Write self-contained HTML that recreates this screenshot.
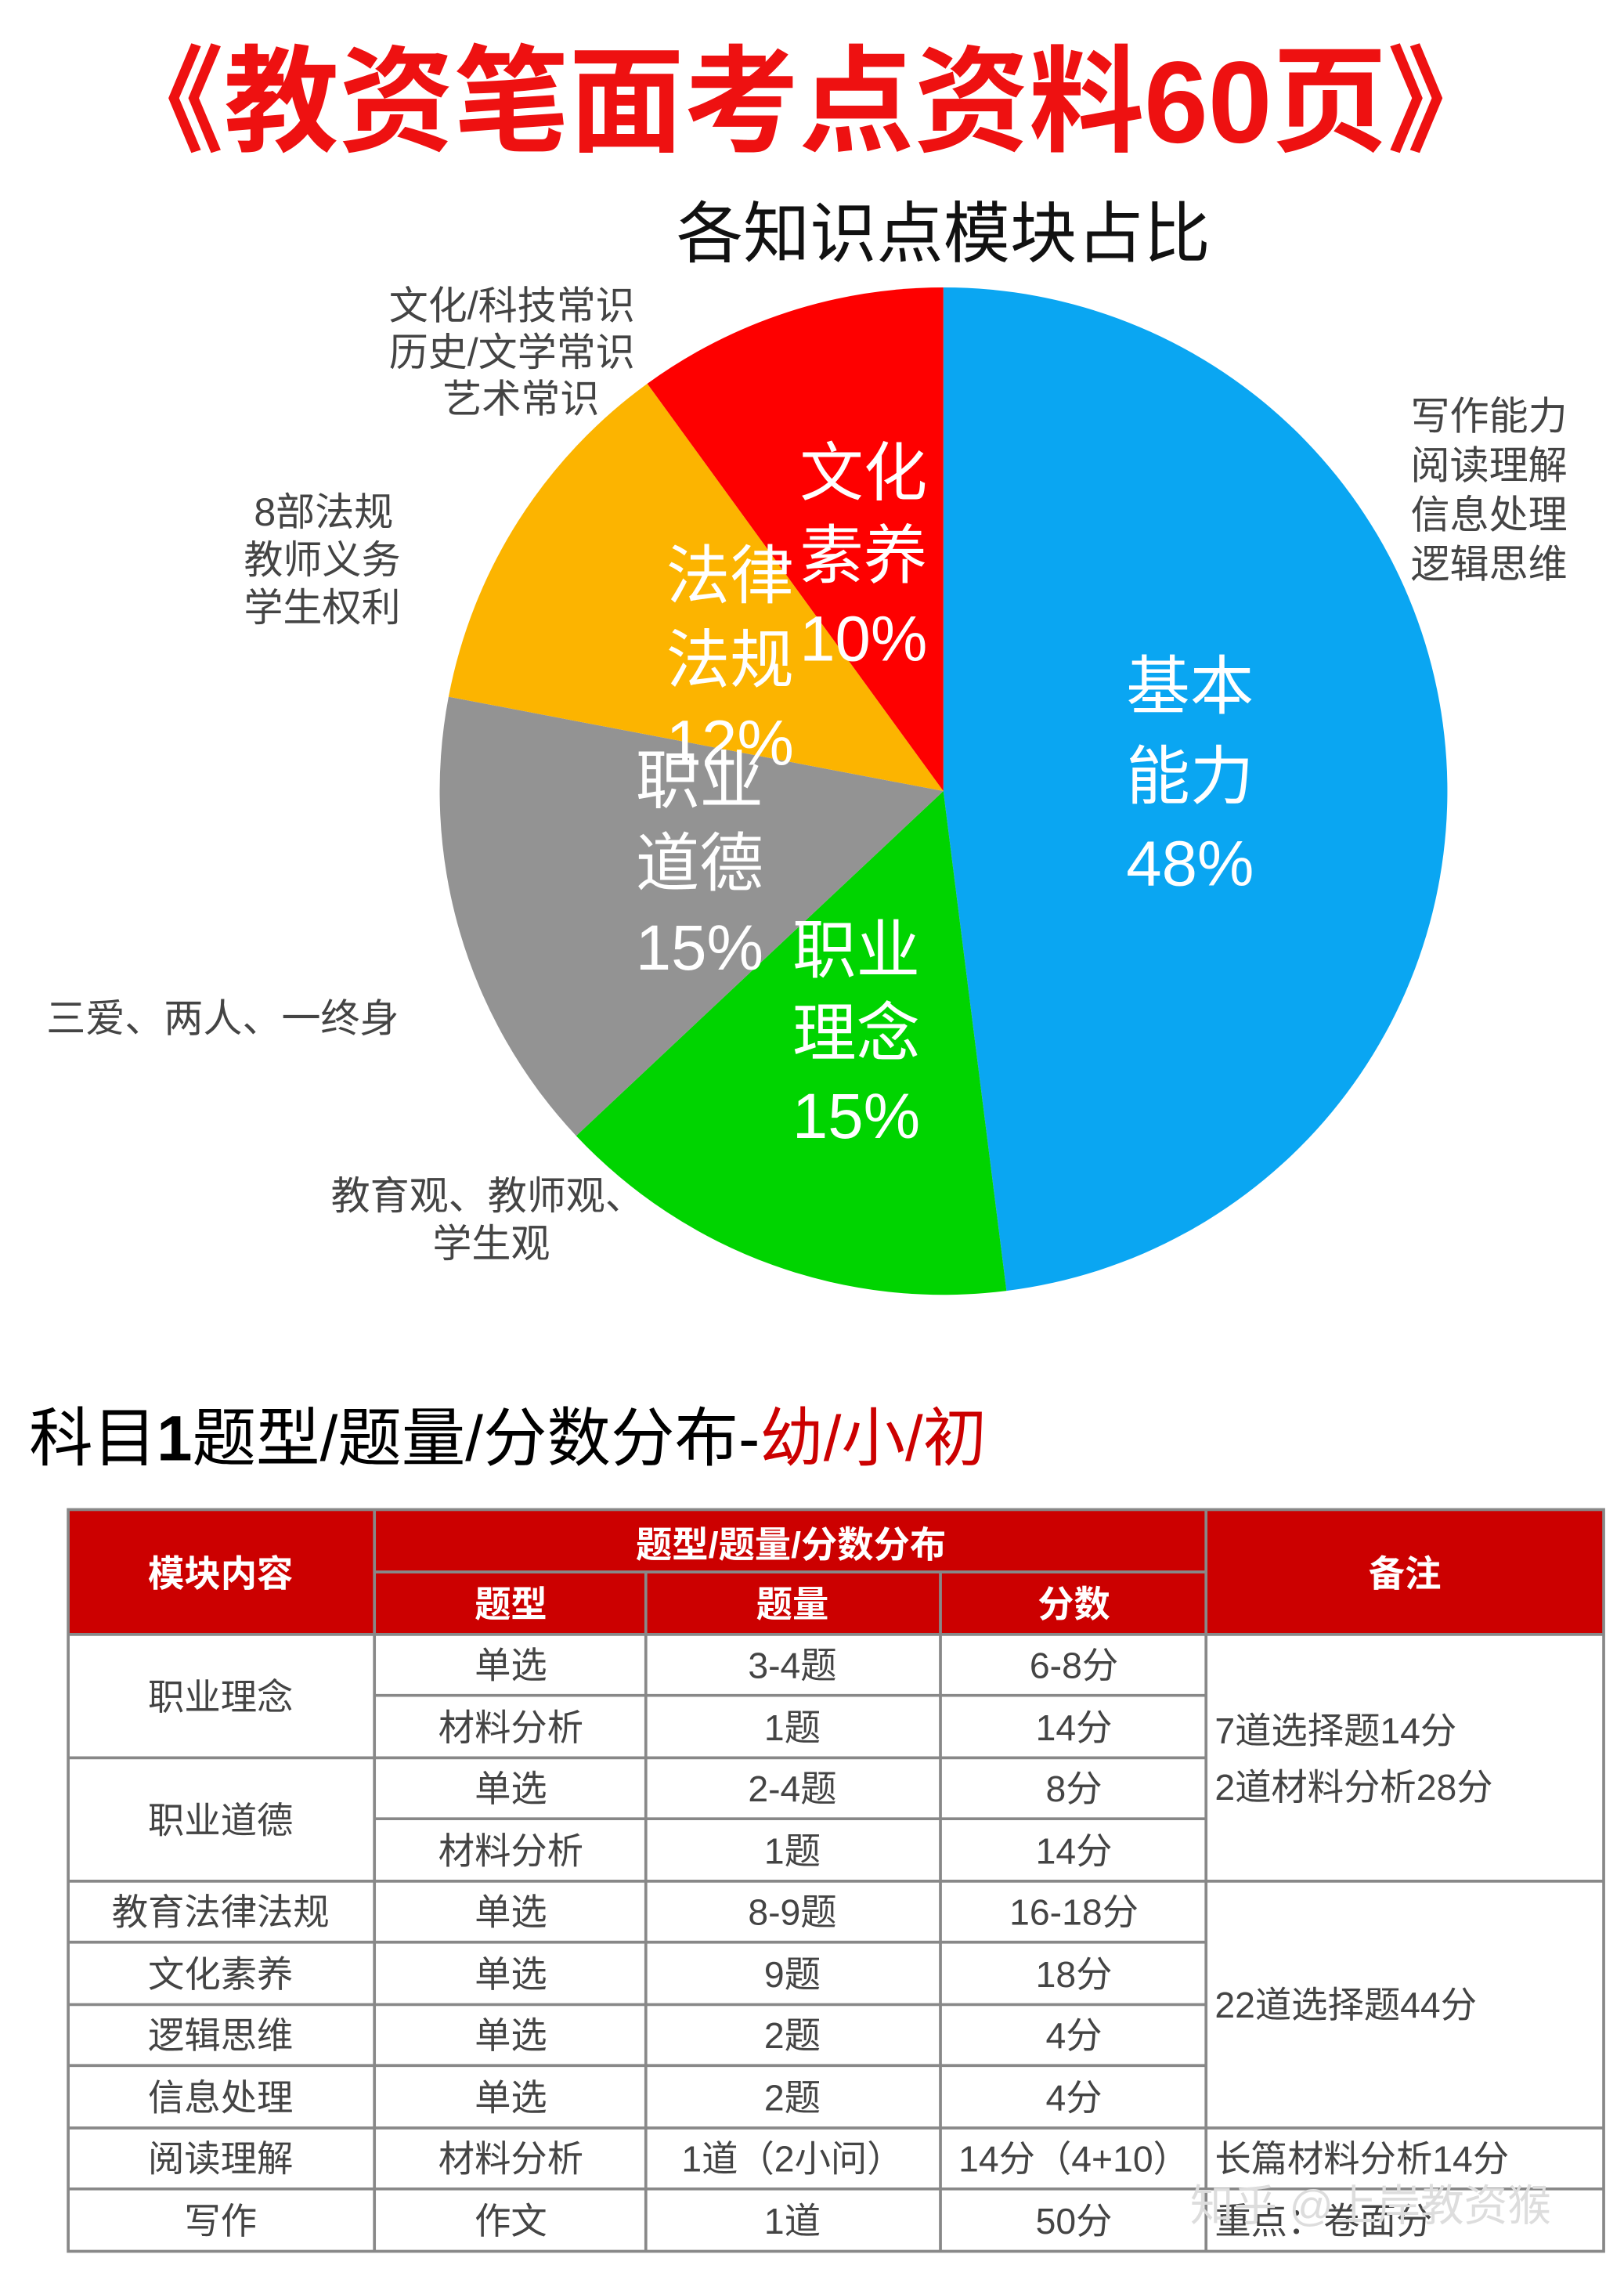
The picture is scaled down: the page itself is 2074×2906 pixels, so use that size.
<!DOCTYPE html>
<html><head><meta charset="utf-8">
<style>html,body{margin:0;padding:0;background:#fff}svg{display:block}
text{font-family:"Liberation Sans","Noto Sans CJK SC",sans-serif}</style></head>
<body>
<svg width="2074" height="2906" viewBox="0 0 1119 1568" preserveAspectRatio="none" xmlns="http://www.w3.org/2000/svg">
<rect width="1119" height="1568" fill="#fff"/>
<text x="555" y="98" text-anchor="middle" font-size="80" font-weight="bold" fill="#ee1111" textLength="960" lengthAdjust="spacingAndGlyphs">《教资笔面考点资料60页》</text>
<text x="650" y="177" text-anchor="middle" font-size="46" fill="#111">各知识点模块占比</text>
<path d="M650,545 L650,198 A347,347 0 0,1 693.5,889.3 Z" fill="#0aa6f2"/>
<path d="M650,545 L693.5,889.3 A347,347 0 0,1 397,782.5 Z" fill="#00d400"/>
<path d="M650,545 L397,782.5 A347,347 0 0,1 309.1,480 Z" fill="#939393"/>
<path d="M650,545 L309.1,480 A347,347 0 0,1 446,264.3 Z" fill="#fcb400"/>
<path d="M650,545 L446,264.3 A347,347 0 0,1 650,198 Z" fill="#fe0000"/>
<g font-size="44" fill="#fff" text-anchor="middle">
<text x="820" y="488">基本</text><text x="820" y="550">能力</text><text x="820" y="610">48%</text>
<text x="590" y="670">职业</text><text x="590" y="727">理念</text><text x="590" y="784">15%</text>
<text x="482" y="553">职业</text><text x="482" y="610">道德</text><text x="482" y="668">15%</text>
<text x="503" y="412">法律</text><text x="503" y="470">法规</text><text x="503" y="527">12%</text>
<text x="595" y="341">文化</text><text x="595" y="398">素养</text><text x="595" y="455">10%</text>
</g>
<g font-size="27" fill="#444">
<text x="972" y="296">写作能力</text><text x="972" y="330">阅读理解</text><text x="972" y="364">信息处理</text><text x="972" y="398">逻辑思维</text>
<text x="268" y="220">文化/科技常识</text><text x="268" y="252">历史/文学常识</text><text x="305" y="284">艺术常识</text>
<text x="175" y="362">8部法规</text><text x="168" y="395">教师义务</text><text x="168" y="428">学生权利</text>
<text x="32" y="711">三爱、两人、一终身</text>
<text x="228" y="833">教育观、教师观、</text><text x="298" y="866">学生观</text>
</g>
<text x="20" y="1006" font-size="44" fill="#000">科目<tspan font-weight="bold">1</tspan>题型/题量/分数分布-<tspan fill="#cc0000">幼/小/初</tspan></text>
<rect x="47" y="1040" width="1058" height="86" fill="#cc0000"/>
<g stroke="#888" stroke-width="2" fill="none">
<rect x="47" y="1040" width="1058" height="511"/>
<line x1="258" y1="1040" x2="258" y2="1551"/>
<line x1="831" y1="1040" x2="831" y2="1551"/>
<line x1="445" y1="1083" x2="445" y2="1551"/>
<line x1="648" y1="1083" x2="648" y2="1551"/>
<line x1="258" y1="1083" x2="831" y2="1083"/>
<line x1="47" y1="1126" x2="1105" y2="1126"/>
<line x1="258" y1="1168" x2="831" y2="1168"/>
<line x1="47" y1="1211" x2="831" y2="1211"/>
<line x1="258" y1="1253" x2="831" y2="1253"/>
<line x1="47" y1="1296" x2="1105" y2="1296"/>
<line x1="47" y1="1338" x2="831" y2="1338"/>
<line x1="47" y1="1381" x2="831" y2="1381"/>
<line x1="47" y1="1423" x2="831" y2="1423"/>
<line x1="47" y1="1466" x2="1105" y2="1466"/>
<line x1="47" y1="1508" x2="1105" y2="1508"/>
</g>
<g font-size="25" font-weight="bold" fill="#fff" text-anchor="middle">
<text x="152" y="1093">模块内容</text><text x="545" y="1073">题型/题量/分数分布</text>
<text x="352" y="1114">题型</text><text x="546" y="1114">题量</text><text x="740" y="1114">分数</text>
<text x="968" y="1093">备注</text>
</g>
<g font-size="25" fill="#444" text-anchor="middle">
<text x="152" y="1178">职业理念</text><text x="152" y="1263">职业道德</text>
<text x="152" y="1326">教育法律法规</text><text x="152" y="1369">文化素养</text><text x="152" y="1411">逻辑思维</text><text x="152" y="1454">信息处理</text><text x="152" y="1496">阅读理解</text><text x="152" y="1539">写作</text>
<text x="352" y="1156">单选</text><text x="352" y="1199">材料分析</text><text x="352" y="1241">单选</text><text x="352" y="1284">材料分析</text><text x="352" y="1326">单选</text><text x="352" y="1369">单选</text><text x="352" y="1411">单选</text><text x="352" y="1454">单选</text><text x="352" y="1496">材料分析</text><text x="352" y="1539">作文</text>
<text x="546" y="1156">3-4题</text><text x="546" y="1199">1题</text><text x="546" y="1241">2-4题</text><text x="546" y="1284">1题</text><text x="546" y="1326">8-9题</text><text x="546" y="1369">9题</text><text x="546" y="1411">2题</text><text x="546" y="1454">2题</text><text x="546" y="1496">1道（2小问）</text><text x="546" y="1539">1道</text>
<text x="740" y="1156">6-8分</text><text x="740" y="1199">14分</text><text x="740" y="1241">8分</text><text x="740" y="1284">14分</text><text x="740" y="1326">16-18分</text><text x="740" y="1369">18分</text><text x="740" y="1411">4分</text><text x="740" y="1454">4分</text><text x="740" y="1496">14分（4+10）</text><text x="740" y="1539">50分</text>
</g>
<g font-size="25" fill="#444">
<text x="837" y="1201">7道选择题14分</text><text x="837" y="1240">2道材料分析28分</text>
<text x="837" y="1390">22道选择题44分</text>
<text x="837" y="1496">长篇材料分析14分</text><text x="837" y="1539">重点：卷面分</text>
</g>
<text x="820" y="1530" font-size="30" fill="#ddd">知乎 @上岸教资猴</text>
</svg>
</body></html>
